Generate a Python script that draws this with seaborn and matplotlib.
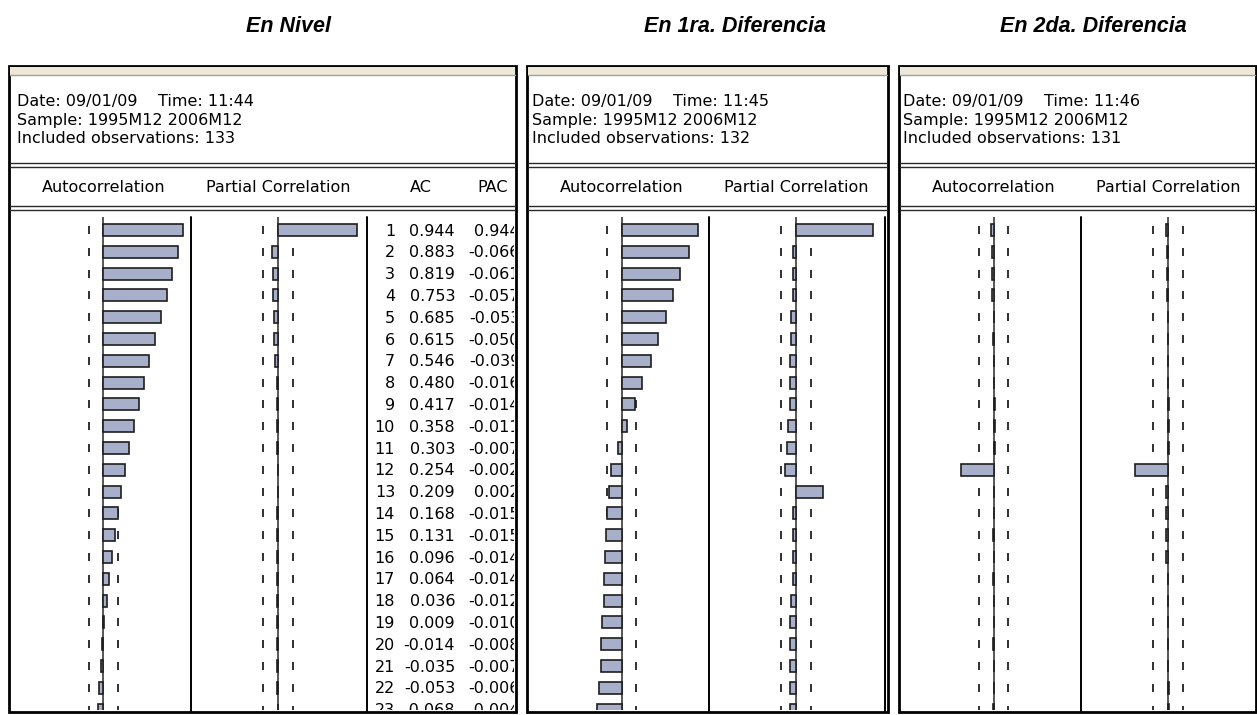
import numpy as np
import pandas as pd
import matplotlib
matplotlib.use("Agg")
import matplotlib.pyplot as plt
from matplotlib.patches import Rectangle
import seaborn as sns

sns.set_theme(style="white")
plt.rcParams["font.family"] = ["DejaVu Sans"]
plt.rcParams["text.color"] = "black"

# ---------------------------------------------------------------- data
lags = np.arange(1, 24)

ac_nivel = [0.944, 0.883, 0.819, 0.753, 0.685, 0.615, 0.546, 0.480, 0.417, 0.358,
            0.303, 0.254, 0.209, 0.168, 0.131, 0.096, 0.064, 0.036, 0.009, -0.014,
            -0.035, -0.053, -0.068]
pac_nivel = [0.944, -0.066, -0.061, -0.057, -0.053, -0.050, -0.039, -0.016, -0.014, -0.011,
             -0.007, -0.002, 0.002, -0.015, -0.015, -0.014, -0.014, -0.012, -0.010, -0.008,
             -0.007, -0.006, -0.004]

ac_d1 = [0.912, 0.806, 0.702, 0.611, 0.524, 0.437, 0.349, 0.246, 0.159, 0.071,
         -0.036, -0.123, -0.143, -0.167, -0.179, -0.194, -0.214, -0.214, -0.230, -0.250,
         -0.250, -0.266, -0.286]
pac_d1 = [0.912, -0.040, -0.040, -0.040, -0.056, -0.056, -0.071, -0.071, -0.071, -0.091,
          -0.107, -0.127, 0.325, -0.040, -0.040, -0.040, -0.040, -0.056, -0.071, -0.071,
          -0.071, -0.071, -0.071]

ac_d2 = [-0.028, -0.015, -0.015, -0.015, 0.003, -0.002, 0.002, 0.003, 0.015, 0.015,
         0.015, -0.385, 0.004, 0.002, -0.003, 0.003, -0.002, 0.003, 0.002, -0.003,
         0.002, 0.003, -0.002]
pac_d2 = [-0.028, -0.015, -0.015, -0.015, 0.002, -0.003, 0.002, -0.002, 0.015, 0.015,
          0.015, -0.389, -0.020, -0.020, -0.020, -0.020, 0.003, -0.002, 0.002, 0.003,
          -0.003, 0.015, 0.015]

titles = ["En Nivel", "En 1ra. Diferencia", "En 2da. Diferencia"]
run_date = "09/01/09"
run_times = ["11:44", "11:45", "11:46"]
sample = "1995M12 2006M12"
n_obs = [133, 132, 131]
col_headers = ["Autocorrelation", "Partial Correlation"]
num_headers = ["AC", "PAC"]

series = [(ac_nivel, pac_nivel), (ac_d1, pac_d1), (ac_d2, pac_d2)]

# ---------------------------------------------------------------- layout (pixels)
W, H = 1257, 715
BAR = "#A8AFCB"
EDGE = "#1E1E1E"
FS = 11.5

panel_left = [9, 527, 899]
panel_right = [516, 888, 1256]
text_left = [17, 532, 903]
title_x = [289, 735, 1093]
TOP, BOTTOM = 66, 712
DATA_TOP, DATA_BOTTOM = 217, 710
ROW0, ROW = 230.0, 21.8          # first lag row centre, row pitch
SCALE = 84.0                     # pixels per unit correlation
AC_OFF, SEP1_OFF, PAC_OFF, SEP2_OFF = 94.5, 182, 269, 358

y_top = 1 - (ROW0 - DATA_TOP) / ROW
y_bot = 1 + (DATA_BOTTOM - ROW0) / ROW


def fig_rect(x0, y0, x1, y1):
    return [x0 / W, 1 - y1 / H, (x1 - x0) / W, (y1 - y0) / H]


fig = plt.figure(figsize=(W / 100, H / 100), dpi=100)
fig.patch.set_facecolor("white")
bg = fig.add_axes([0, 0, 1, 1])
bg.set_xlim(0, W)
bg.set_ylim(H, 0)
bg.axis("off")


def correlogram(ax, values, n):
    df = pd.DataFrame({"lag": lags, "value": values})
    bound = 2 / np.sqrt(n)
    for b in (-bound, bound):
        ax.vlines(np.full(len(lags), b), lags - 0.18, lags + 0.18,
                  color="#202020", lw=1.3, zorder=1)
    ax.axvline(0, color="#3A3A3A", lw=1.2, zorder=2)
    sns.barplot(data=df, x="value", y="lag", orient="h", native_scale=True,
                ax=ax, color=BAR, edgecolor=EDGE, linewidth=1.2, width=0.55,
                saturation=1, errorbar=None, zorder=3)
    ax.set_xlim(-1, 1)
    ax.set_ylim(y_bot, y_top)
    ax.axis("off")


for i in range(3):
    L, R = panel_left[i], panel_right[i]

    # title above the window
    bg.text(title_x[i], 27, titles[i], ha="center", va="center",
            fontsize=15.5, fontweight="bold", fontstyle="italic",
            family="Liberation Sans", color="black")

    # window frame and caption strip
    bg.add_patch(Rectangle((L, TOP), R - L, BOTTOM - TOP, facecolor="white",
                           edgecolor="black", lw=2, zorder=0))
    bg.add_patch(Rectangle((L + 1, TOP + 1.2), R - L - 2, 7.5,
                           facecolor="#ECE9D8", edgecolor="none", zorder=1))
    bg.plot([L + 1, R - 1], [75, 75], color="#A0A0A0", lw=1, zorder=2)

    # header block
    bg.text(text_left[i], 105.7, f"Date: {run_date}    Time: {run_times[i]}",
            ha="left", va="baseline", fontsize=FS)
    bg.text(text_left[i], 124.5, f"Sample: {sample}",
            ha="left", va="baseline", fontsize=FS)
    bg.text(text_left[i], 143.3, f"Included observations: {n_obs[i]}",
            ha="left", va="baseline", fontsize=FS)

    for yy in (162.5, 166.5, 206, 210):
        bg.plot([L + 1, R - 1], [yy, yy], color="#2A2A2A", lw=1, zorder=2)

    bg.text(L + AC_OFF, 191.7, col_headers[0], ha="center", va="baseline", fontsize=FS)
    bg.text(L + PAC_OFF, 191.7, col_headers[1], ha="center", va="baseline", fontsize=FS)

    # column separators in the data area
    for off in (SEP1_OFF, SEP2_OFF):
        bg.plot([L + off, L + off], [DATA_TOP, BOTTOM - 1], color="black",
                lw=1.4, zorder=2)

    # correlogram bars
    for off, vals in zip((AC_OFF, PAC_OFF), series[i]):
        z = L + off
        ax = fig.add_axes(fig_rect(z - SCALE, DATA_TOP, z + SCALE, DATA_BOTTOM))
        correlogram(ax, vals, n_obs[i])

# numeric table of the level series (clipped by the window edge)
bg.text(421, 191.7, num_headers[0], ha="center", va="baseline", fontsize=FS)
bg.text(492.5, 191.7, num_headers[1], ha="center", va="baseline", fontsize=FS)

tx0, tx1 = 368, 514
tax = fig.add_axes(fig_rect(tx0, DATA_TOP, tx1, DATA_BOTTOM))
tax.set_xlim(tx0, tx1)
tax.set_ylim(y_bot, y_top)
tax.axis("off")
for lag, ac, pac in zip(lags, ac_nivel, pac_nivel):
    for xr, s in ((395, f"{lag}"), (455, f"{ac:.3f}"), (520, f"{pac:.3f}")):
        t = tax.text(xr, lag + 0.26, s, ha="right", va="baseline",
                     fontsize=FS, clip_on=True)
        t.set_clip_path(tax.patch)

fig.savefig("out.png", dpi=100, facecolor="white")
